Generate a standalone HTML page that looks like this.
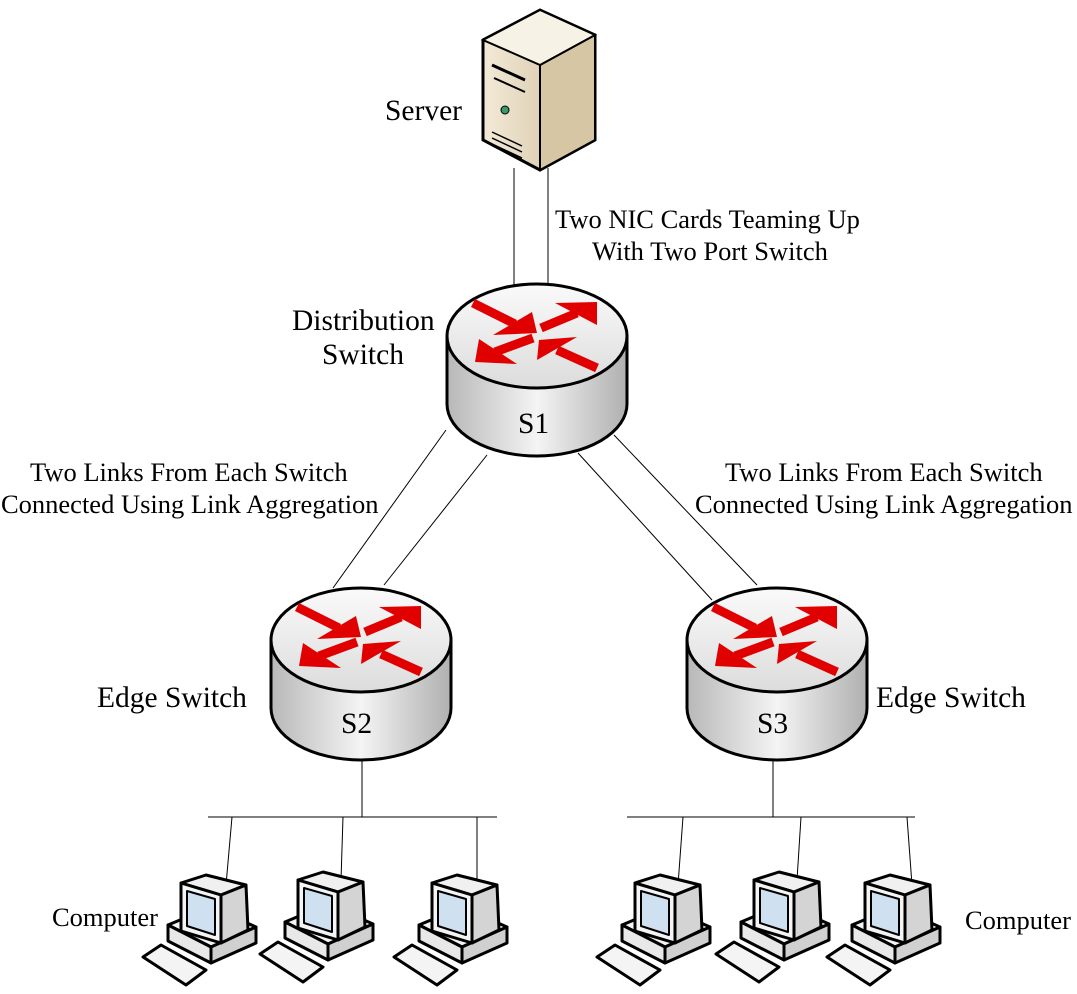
<!DOCTYPE html>
<html><head><style>body{margin:0;background:#fff}svg{display:block}text{font-family:"Liberation Serif",serif;fill:#000}</style></head>
<body>
<svg width="1077" height="994" viewBox="0 0 1077 994" xmlns="http://www.w3.org/2000/svg">
<defs>
<linearGradient id="cyl" x1="0" x2="1" y1="0" y2="0">
<stop offset="0" stop-color="#b8b8b8"/><stop offset="0.5" stop-color="#f4f4f4"/><stop offset="1" stop-color="#b0b0b0"/></linearGradient>
<linearGradient id="top" x1="0" x2="0" y1="0" y2="1"><stop offset="0" stop-color="#fafafa"/><stop offset="1" stop-color="#dcdcdc"/></linearGradient>
<linearGradient id="srv" x1="0" x2="1"><stop offset="0" stop-color="#f3ead8"/><stop offset="1" stop-color="#cdbb98"/></linearGradient>
<g id="sw">
<path d="M-90,0 L-90,68 A90,52 0 0 0 90,68 L90,0 Z" fill="url(#cyl)" stroke="#000" stroke-width="3"/>
<ellipse cx="0" cy="0" rx="90" ry="52" fill="url(#top)" stroke="#000" stroke-width="3"/>
<g stroke="#e00000" stroke-width="9">
<line x1="-64" y1="-33" x2="-22" y2="-12"/>
<line x1="4" y1="-8" x2="40" y2="-23"/>
<line x1="-4" y1="2" x2="-42" y2="16"/>
<line x1="20" y1="14" x2="60" y2="32"/>
</g>
<g fill="#e00000">
<polygon points="0,-3 -5,-24 -44,-1"/>
<polygon points="60,-34 18,-33 60,-11"/>
<polygon points="-62,26 -58,3 -20,28"/>
<polygon points="2,4 40,1 0,24"/>
</g>
</g>
<g id="pc" stroke="#000" stroke-width="3" stroke-linejoin="round">
<polygon points="-58,40 -15,22 30,42 -15,62" fill="#f4f4f4"/>
<polygon points="-58,40 -15,62 -15,78 -58,56" fill="#e8e8e8"/>
<polygon points="-15,62 30,42 30,58 -15,78" fill="#d0d0d0"/>
<polygon points="-45,-2 -20,-10 20,0 -5,10" fill="#f0f0f0"/>
<polygon points="-5,10 20,0 22,45 -5,58" fill="#d4d4d4"/>
<polygon points="-45,-2 -5,10 -5,58 -45,46" fill="#f4f4f4"/>
<polygon points="-39,6 -11,14 -11,50 -39,41" fill="#cfe0f0" stroke-width="2"/>
<polygon points="-83,72 -65,60 -20,85 -40,100" fill="#f4f4f4"/>
</g>
</defs>
<g stroke="#000" stroke-width="1" fill="none">
<line x1="514" y1="168" x2="514" y2="290"/><line x1="548" y1="168" x2="548" y2="290"/>
<line x1="487" y1="455" x2="384" y2="585"/><line x1="446" y1="430" x2="333" y2="588"/>
<line x1="578" y1="453" x2="712" y2="600"/><line x1="614" y1="435" x2="757" y2="585"/>
<line x1="362" y1="760" x2="362" y2="817"/><line x1="208" y1="817" x2="497" y2="817"/>
<line x1="232" y1="817" x2="226" y2="885"/><line x1="343" y1="817" x2="341" y2="880"/><line x1="477" y1="817" x2="477" y2="885"/>
<line x1="773" y1="760" x2="773" y2="817"/><line x1="627" y1="817" x2="915" y2="817"/>
<line x1="683" y1="817" x2="678" y2="885"/><line x1="801" y1="817" x2="797" y2="880"/><line x1="907" y1="817" x2="912" y2="885"/>
</g>
<polygon points="483,40 540,10 595,35 595,140 540,170 483,140" fill="url(#srv)" stroke="#000" stroke-width="3"/>
<polygon points="540,65 595,35 595,140 540,170" fill="#d6c6a4" stroke="#000" stroke-width="2"/>
<polygon points="483,40 540,10 595,35 540,65" fill="#f7f2e6" stroke="#000" stroke-width="2"/>
<line x1="492" y1="65" x2="525" y2="80" stroke="#000" stroke-width="3"/>
<line x1="494" y1="78" x2="525" y2="92" stroke="#000" stroke-width="2"/>
<circle cx="505" cy="110" r="4" fill="#3a9a6a" stroke="#000"/>
<g stroke="#000" stroke-width="1.5"><line x1="492" y1="132" x2="522" y2="146"/><line x1="492" y1="138" x2="522" y2="152"/><line x1="492" y1="144" x2="522" y2="158"/></g>
<use href="#sw" x="537" y="336"/>
<use href="#sw" x="361" y="640"/>
<use href="#sw" x="777" y="640"/>
<use href="#pc" x="226" y="885"/><use href="#pc" x="343" y="882"/><use href="#pc" x="477" y="885"/>
<use href="#pc" x="680" y="885"/><use href="#pc" x="799" y="882"/><use href="#pc" x="910" y="885"/>
<g font-size="26.5">
<text x="555" y="228">Two NIC Cards Teaming Up</text>
<text x="592" y="260">With Two Port Switch</text>
<text x="30" y="481">Two Links From Each Switch</text>
<text x="1" y="513">Connected Using Link Aggregation</text>
<text x="725" y="481">Two Links From Each Switch</text>
<text x="695" y="513">Connected Using Link Aggregation</text>
<text x="52" y="926">Computer</text>
<text x="965" y="929">Computer</text>
</g>
<g font-size="29.5">
<text x="385" y="120">Server</text>
<text x="292" y="330">Distribution</text>
<text x="322" y="364">Switch</text>
<text x="518" y="433">S1</text>
<text x="97" y="707">Edge Switch</text>
<text x="341" y="733">S2</text>
<text x="876" y="707">Edge Switch</text>
<text x="757" y="733">S3</text>
</g>
</svg>
</body></html>
